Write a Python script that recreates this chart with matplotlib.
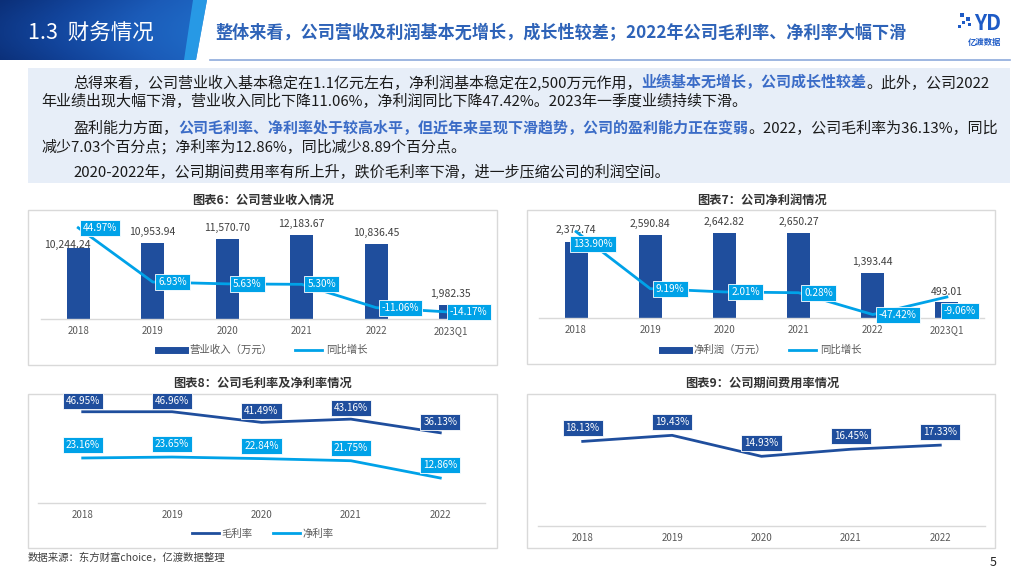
import numpy as np
import matplotlib
matplotlib.use("Agg")
import matplotlib.pyplot as plt
from matplotlib.patches import Rectangle, Polygon
from matplotlib.lines import Line2D
from matplotlib.colors import LinearSegmentedColormap

plt.rcParams['font.family'] = ['Noto Sans CJK SC', 'DejaVu Sans']

# ---------------- data ----------------
years6 = ['2018', '2019', '2020', '2021', '2022', '2023Q1']
revenue = [10244.24, 10953.94, 11570.70, 12183.67, 10836.45, 1982.35]
revenue_growth = [44.97, 6.93, 5.63, 5.30, -11.06, -14.17]

net_profit = [2372.74, 2590.84, 2642.82, 2650.27, 1393.44, 493.01]
profit_growth = [133.90, 9.19, 2.01, 0.28, -47.42, -9.06]

years5 = ['2018', '2019', '2020', '2021', '2022']
gross_margin = [46.95, 46.96, 41.49, 43.16, 36.13]
net_margin = [23.16, 23.65, 22.84, 21.75, 12.86]
expense_rate = [18.13, 19.43, 14.93, 16.45, 17.33]

DARK = '#1f4e9d'
LIGHT = '#00a2e8'
GRAY = '#595959'
BORDER = '#d9d9d9'

W, H = 1024, 576
fig = plt.figure(figsize=(W / 100, H / 100), dpi=100)
fig.patch.set_facecolor('white')

bg = fig.add_axes([0, 0, 1, 1], zorder=0)
bg.set_xlim(0, W)
bg.set_ylim(H, 0)
bg.axis('off')


def pax(x0, y0, x1, y1):
    return fig.add_axes([x0 / W, 1 - y1 / H, (x1 - x0) / W, (y1 - y0) / H], zorder=2)


# ---------------- header ----------------
cmap = LinearSegmentedColormap.from_list('hdr', ['#0b2f78', '#12449b', '#1b5bb8', '#1f6cc8'])
grad = np.tile(np.linspace(0, 1, 256), (60, 1))
grad = grad + 0.15 * np.sin(np.linspace(0, 3, 60))[:, None]
im = bg.imshow(grad, extent=(0, 210, 60, 0), cmap=cmap, aspect='auto', zorder=1)
hdr_poly = Polygon([(0, 0), (207, 0), (196, 60), (0, 60)], closed=True, transform=bg.transData)
im.set_clip_path(hdr_poly)
bg.add_patch(Polygon([(193, 0), (207, 0), (196, 60), (184, 60)], closed=True,
                     fc='#2aa6ee', ec='none', alpha=0.8, zorder=2))
bg.text(28, 33, '1.3  财务情况', color='white', fontsize=15.5, ha='left', va='center', zorder=3)

bg.text(215, 33, '整体来看，公司营收及利润基本无增长，成长性较差；2022年公司毛利率、净利率大幅下滑',
        color='#2e63b8', fontsize=12.3, weight='bold', ha='left', va='center', zorder=3)
bg.plot([210, 1010], [60, 60], color='#8eaadb', lw=1.2, zorder=2)

# logo
for (lx, ly, s) in [(960, 13, 4), (966, 17, 4), (962, 21, 3), (968, 23, 3), (958, 25, 3)]:
    bg.add_patch(Rectangle((lx, ly), s, s, fc='#1e5bc6', ec='none', zorder=3))
bg.text(988, 24, 'YD', color='#1e5bc6', fontsize=15, weight='bold', style='italic',
        ha='center', va='center', zorder=3)
bg.text(985, 42, '亿渡数据', color='#1e5bc6', fontsize=6, weight='bold', ha='center', va='center', zorder=3)

# ---------------- paragraph box ----------------
bg.add_patch(Rectangle((28, 68), 982, 115, fc='#e7eef8', ec='none', zorder=1))

HL = '#3b6cc7'


def rich_line(x, y, segments, fs=10.8):
    prev = None
    for s, hl in segments:
        kw = dict(fontsize=fs, color=HL if hl else '#1a1a1a', weight='bold' if hl else 'normal', zorder=3)
        if prev is None:
            prev = bg.text(x, y, s, ha='left', va='center', **kw)
        else:
            prev = bg.annotate(s, xy=(1, 0), xycoords=prev, ha='left', va='bottom', **kw)


rich_line(73, 82, [('总得来看，公司营业收入基本稳定在1.1亿元左右，净利润基本稳定在2,500万元作用，', False),
                   ('业绩基本无增长，公司成长性较差', True), ('。此外，公司2022', False)])
rich_line(41, 101, [('年业绩出现大幅下滑，营业收入同比下降11.06%，净利润同比下降47.42%。2023年一季度业绩持续下滑。', False)])
rich_line(73, 128, [('盈利能力方面，', False),
                    ('公司毛利率、净利率处于较高水平，但近年来呈现下滑趋势，公司的盈利能力正在变弱', True),
                    ('。2022，公司毛利率为36.13%，同比', False)])
rich_line(41, 147, [('减少7.03个百分点；净利率为12.86%，同比减少8.89个百分点。', False)])
rich_line(73, 173, [('2020-2022年，公司期间费用率有所上升，跌价毛利率下滑，进一步压缩公司的利润空间。', False)])

# ---------------- chart frames & titles ----------------
for (x0, y0, x1, y1) in [(28, 210, 497, 365), (527, 210, 995, 364), (28, 394, 497, 548), (527, 394, 995, 548)]:
    bg.add_patch(Rectangle((x0, y0), x1 - x0, y1 - y0, fc='white', ec=BORDER, lw=1, zorder=1))

for (cx, cy, t) in [(263, 200, '图表6：公司营业收入情况'), (762, 200, '图表7：公司净利润情况'),
                    (263, 383, '图表8：公司毛利率及净利率情况'), (762, 383, '图表9：公司期间费用率情况')]:
    bg.text(cx, cy, t, ha='center', va='center', fontsize=8.8, weight='bold', color='#333333', zorder=3)

bg.text(28, 558, '数据来源：东方财富choice，亿渡数据整理', fontsize=7.5, color='#404040',
        ha='left', va='center', zorder=3)
bg.text(993, 562, '5', fontsize=9, color='#222222', ha='center', va='center', zorder=3)


def style_axis(ax):
    for sp in ['top', 'left', 'right']:
        ax.spines[sp].set_visible(False)
    ax.spines['bottom'].set_color(BORDER)
    ax.spines['bottom'].set_linewidth(1)
    ax.set_yticks([])
    ax.tick_params(axis='x', length=0, labelsize=7, labelcolor=GRAY, pad=5)
    ax.patch.set_alpha(0)


def tag(ax, x, y, s, color, dx, dy):
    ax.annotate(s, xy=(x, y), xytext=(dx, -dy), textcoords='offset pixels', ha='center', va='center',
                fontsize=7.2, color='white', zorder=6,
                bbox=dict(boxstyle='square,pad=0.3', fc=color, ec='white', lw=0.6))


def bar_line_chart(rect, cats, bars, growth, ylim_b, ylim_g, bar_label, offsets, bar_offsets, legend_pos):
    ax = pax(*rect)
    x = np.arange(len(cats))
    ax.bar(x, bars, width=0.31, color=DARK, zorder=2)
    ax.set_xlim(-0.5, len(cats) - 0.5)
    ax.set_ylim(*ylim_b)
    ax.set_xticks(x)
    ax.set_xticklabels(cats)
    style_axis(ax)
    for xi, v, (bx, by) in zip(x, bars, bar_offsets):
        ax.annotate(f'{v:,.2f}', xy=(xi, v), xytext=(bx, by), textcoords='offset pixels',
                    ha='center', va='center', fontsize=7.5, color='#404040')
    ax2 = ax.twinx()
    ax2.set_ylim(*ylim_g)
    ax2.plot(x, growth, color=LIGHT, lw=2, zorder=3, solid_joinstyle='round')
    ax2.axis('off')
    for xi, v, (dx, dy) in zip(x, growth, offsets):
        tag(ax2, xi, v, f'{v:.2f}%', LIGHT, dx, dy)
    handles = [Line2D([], [], color=DARK, lw=5), Line2D([], [], color=LIGHT, lw=2)]
    fig.legend(handles, [bar_label, '同比增长'], loc='center',
               bbox_to_anchor=(legend_pos[0] / W, 1 - legend_pos[1] / H), ncol=2, frameon=False,
               fontsize=7.5, handlelength=2.6, handletextpad=0.4, columnspacing=2.2, labelcolor=GRAY)


bar_line_chart((41, 222, 488, 319), years6, revenue, revenue_growth, (0, 14000), (-19, 49),
               '营业收入（万元）', [(22, 0), (20, 0), (20, 0), (20, 0), (24, 0), (18, 0)],
               [(-11, 3), (0, 11), (0, 11), (0, 11), (0, 11), (0, 11)], (263, 350))
bar_line_chart((539, 222, 984, 318), years6, net_profit, profit_growth, (0, 3000), (-55, 155),
               '净利润（万元）', [(17, 12), (20, 0), (21, 0), (20, 0), (25, 0), (13, 14)],
               [(0, 12), (0, 11), (0, 11), (0, 11), (0, 11), (0, 10)], (762, 350))

# ---------------- chart 8 ----------------
ax8 = pax(38, 400, 485, 503)
x5 = np.arange(len(years5))
ax8.plot(x5, gross_margin, color=DARK, lw=2, zorder=3)
ax8.plot(x5, net_margin, color=LIGHT, lw=2, zorder=3)
ax8.set_xlim(-0.5, len(years5) - 0.5)
ax8.set_ylim(0, 53)
ax8.set_xticks(x5)
ax8.set_xticklabels(years5)
style_axis(ax8)
for xi, v in zip(x5, gross_margin):
    tag(ax8, xi, v, f'{v:.2f}%', DARK, 0, -11)
for xi, v in zip(x5, net_margin):
    tag(ax8, xi, v, f'{v:.2f}%', LIGHT, 0, -13)
fig.legend([Line2D([], [], color=DARK, lw=2), Line2D([], [], color=LIGHT, lw=2)], ['毛利率', '净利率'],
           loc='center', bbox_to_anchor=(263 / W, 1 - 534 / H), ncol=2, frameon=False, fontsize=7.5,
           handlelength=2.6, handletextpad=0.2, columnspacing=2.0, labelcolor=GRAY)

# ---------------- chart 9 ----------------
ax9 = pax(538, 400, 985, 526)
ax9.plot(x5, expense_rate, color=DARK, lw=2, zorder=3)
ax9.set_xlim(-0.5, len(years5) - 0.5)
ax9.set_ylim(0, 27)
ax9.set_xticks(x5)
ax9.set_xticklabels(years5)
style_axis(ax9)
for xi, v in zip(x5, expense_rate):
    tag(ax9, xi, v, f'{v:.2f}%', DARK, 0, -13)

fig.savefig('out.png', dpi=100)
